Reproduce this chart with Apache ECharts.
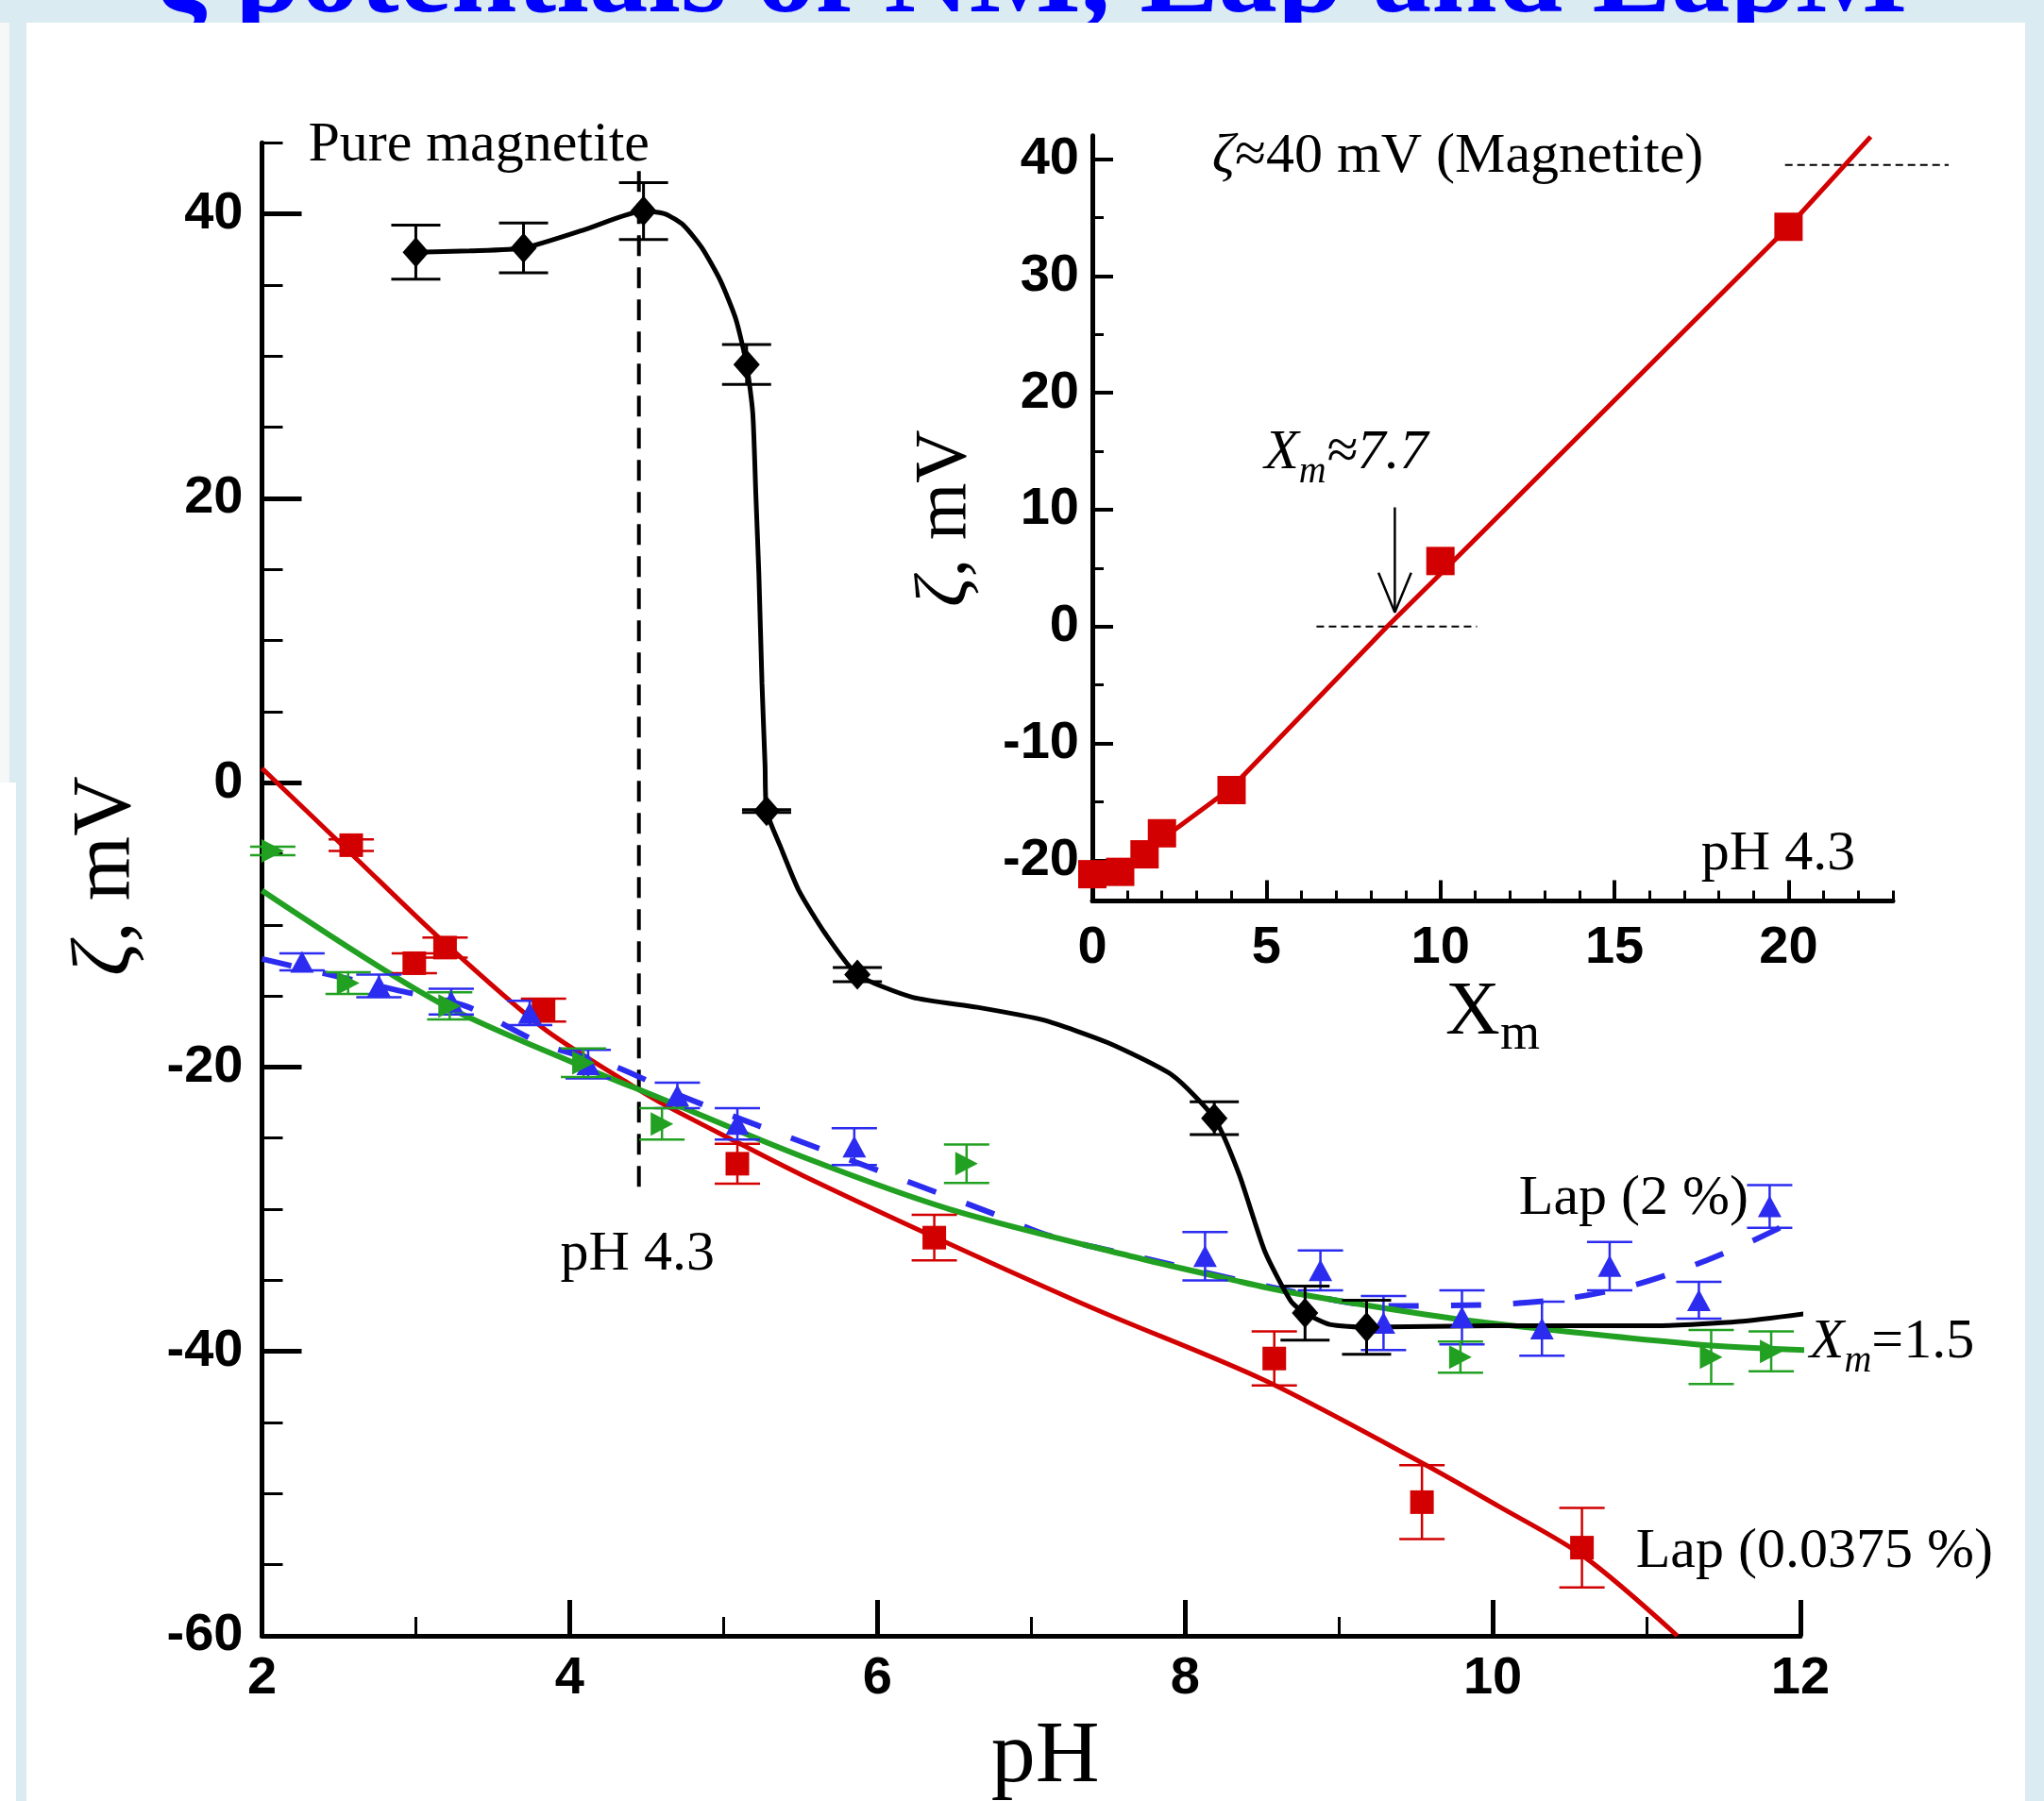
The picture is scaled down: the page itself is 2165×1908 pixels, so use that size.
<!DOCTYPE html>
<html><head><meta charset="utf-8">
<script src="https://cdn.jsdelivr.net/npm/echarts@6/dist/echarts.min.js"></script>
<style>
html,body{margin:0;padding:0;background:#daebf2;}
#wrap{position:relative;width:2165px;height:1908px;overflow:hidden;background:#daebf2;}
.pn{position:absolute;background:#fff;}
#chart{position:absolute;left:0;top:0;width:2165px;height:1908px;}
</style></head><body>
<div id="wrap">
<div class="pn" style="left:28px;top:24px;width:2117px;height:1884px"></div>
<div class="pn" style="left:0;top:24px;width:10px;height:805px;background:#f6f7f7"></div>
<div class="pn" style="left:0;top:829px;width:17px;height:1079px"></div>
<div id="chart"></div>
</div>
<script>
// ---------- DATA ----------
const titleText = 'ζ potentials of NM, Lap and LapM';

// Main chart axes
const phTicksMajor = [2, 4, 6, 8, 10, 12];
const zetaTicksMajor = [-60, -40, -20, 0, 20, 40];
const zetaTicksMinor = [-55, -50, -45, -35, -30, -25, -15, -10, -5, 5, 10, 15, 25, 30, 35, 45];

// Pure magnetite (black diamonds)
const magX   = [3.0, 3.7, 4.48, 5.15, 5.28, 5.87, 8.19, 8.78, 9.18];
const magY   = [37.3, 37.6, 40.2, 29.4, -2.0, -13.5, -23.6, -37.3, -38.3];
const magErr = [1.9, 1.75, 2.0, 1.4, 0.1, 0.5, 1.15, 1.9, 1.9];
const magFitX = [3.0, 3.35, 3.7, 4.1, 4.48, 4.62, 4.74, 4.86, 4.98, 5.08, 5.15, 5.19, 5.21, 5.23, 5.25, 5.27, 5.28, 5.37, 5.49, 5.66, 5.87, 6.23, 6.65, 7.08, 7.5, 7.92, 8.19, 8.35, 8.52, 8.69, 8.78, 8.94, 9.18, 10.0, 11.08, 11.6, 12.06];
const magFitY = [37.3, 37.4, 37.6, 38.9, 40.2, 40.0, 39.2, 37.6, 35.3, 32.6, 29.4, 26.0, 20.3, 14.6, 7.0, 1.2, -2.0, -4.5, -7.6, -10.6, -13.5, -15.1, -15.8, -16.7, -18.3, -20.6, -23.6, -27.5, -33.0, -36.5, -37.3, -38.1, -38.3, -38.2, -38.2, -37.9, -37.3];

// Lap (0.0375 %) (red squares)
const lapLowX   = [2.58, 2.99, 3.19, 3.83, 5.09, 6.37, 8.58, 9.54, 10.58];
const lapLowY   = [-4.4, -12.7, -11.6, -16.0, -26.8, -32.0, -40.5, -50.6, -53.8];
const lapLowErr = [0.4, 0.7, 0.7, 0.8, 1.4, 1.6, 1.9, 2.6, 2.8];
const lapLowFitX = [2.0, 2.58, 3.14, 3.82, 4.36, 4.59, 5.09, 5.51, 6.38, 7.41, 8.51, 9.55, 10.04, 10.59, 11.2];
const lapLowFitY = [1.0, -5.0, -10.8, -17.2, -21.0, -22.5, -25.3, -27.6, -32.0, -37.0, -42.0, -47.9, -50.9, -54.4, -60.0];

// Xm = 1.5 (green right triangles)
const xm15X   = [2.07, 2.56, 3.22, 4.09, 4.6, 6.58, 9.79, 11.42, 11.81];
const xm15Y   = [-4.8, -14.1, -15.7, -19.7, -24.0, -26.8, -40.4, -40.4, -40.0];
const xm15Err = [0.3, 0.76, 0.95, 1.0, 1.1, 1.35, 1.1, 1.9, 1.4];
const xm15FitX = [2.0, 3.14, 4.09, 4.59, 5.51, 6.47, 7.72, 8.28, 8.66, 9.5, 9.97, 11.32, 12.03];
const xm15FitY = [-7.6, -15.4, -20.0, -22.2, -26.3, -30.0, -33.5, -34.9, -35.8, -37.3, -38.0, -39.5, -39.9];

// Lap (2 %) (blue up triangles)
const lapHighX   = [2.26, 2.76, 3.23, 3.74, 4.12, 4.7, 5.09, 5.85, 8.13, 8.88, 9.29, 9.8, 10.32, 10.76, 11.34, 11.8];
const lapHighY   = [-12.6, -14.3, -15.4, -16.2, -19.8, -22.0, -24.0, -25.6, -33.3, -34.3, -38.0, -37.6, -38.4, -34.0, -36.4, -29.8];
const lapHighErr = [0.6, 0.8, 0.9, 0.85, 1.0, 0.9, 1.1, 1.3, 1.7, 1.4, 1.9, 1.9, 1.9, 1.7, 1.3, 1.5];
const lapHighFitX = [2.0, 2.88, 3.32, 3.83, 4.28, 4.74, 5.22, 6.06, 6.75, 7.13, 7.72, 8.66, 9.3, 10.0, 10.47, 10.93, 11.39, 11.83, 12.05];
const lapHighFitY = [-12.4, -14.6, -15.7, -18.4, -19.9, -22.1, -24.1, -27.5, -30.3, -31.9, -33.4, -35.7, -36.8, -36.7, -36.3, -35.3, -33.6, -31.5, -30.1];

// pH 4.3 guide line
const guideX = [4.45, 4.45];
const guideY = [43.0, -28.5];

// Inset: zeta vs Xm at pH 4.3
const xmTicksMajor = [0, 5, 10, 15, 20];
const xmTicksMinor = [1, 2, 3, 4, 6, 7, 8, 9, 11, 12, 13, 14, 16, 17, 18, 19, 21, 22, 23];
const insetTicksMajor = [-20, -10, 0, 10, 20, 30, 40];
const insetTicksMinor = [-15, -5, 5, 15, 25, 35];
const insetX = [0, 0.8, 1.5, 2.0, 4.0, 10.0, 20.0];
const insetY = [-21.2, -21.0, -19.5, -17.7, -14.0, 5.6, 34.2];
const insetFitX = [0, 0.8, 1.5, 2.0, 4.0, 8.47, 10.0, 20.0, 22.36];
const insetFitY = [-22.0, -21.2, -19.8, -18.2, -13.8, 0.0, 4.5, 34.2, 41.9];
const zeroLineX = [6.44, 11.05], zeroLineY = [0, 0];
const magLineX = [19.9, 24.6], magLineY = [39.5, 39.5];
const arrowX = [8.69, 8.69], arrowY = [10.2, 1.2];
const arrowHeadX = [8.22, 8.69, 9.16], arrowHeadY = [4.6, 1.2, 4.6];

// Text annotations [x, y, text]
const mainNotes = [
  [2.30, 44.8, 'Pure magnetite'],
  [3.94, -33.2, 'pH 4.3'],
  [10.17, -29.3, 'Lap (2 %)'],
  [10.93, -54.1, 'Lap (0.0375 %)'],
  [12.06, -39.4, '{i|X}{s|m}{n|=1.5}']
];
const insetNotes = [
  [3.44, 40.2, '{i|ζ}{n|≈40 mV (Magnetite)}'],
  [4.94, 14.8, '{i|X}{s|m}{i|≈7.7}'],
  [17.49, -19.5, 'pH 4.3']
];

// ---------- HELPERS ----------
function zip(xs, ys, es) { return xs.map((x, i) => es ? [x, ys[i], es[i]] : [x, ys[i]]); }
function errBars(color, lw, capHalf) {
  return function (params, api) {
    const x = api.value(0), y = api.value(1), e = api.value(2);
    const t = api.coord([x, y + e]), b = api.coord([x, y - e]);
    const st = { stroke: color, lineWidth: lw };
    return { type: 'group', children: [
      { type: 'line', shape: { x1: t[0], y1: t[1], x2: b[0], y2: b[1] }, style: st },
      { type: 'line', shape: { x1: t[0] - capHalf, y1: t[1], x2: t[0] + capHalf, y2: t[1] }, style: st },
      { type: 'line', shape: { x1: b[0] - capHalf, y1: b[1], x2: b[0] + capHalf, y2: b[1] }, style: st }
    ]};
  };
}
const SERIF = '"Liberation Serif", "Times New Roman", serif';
const SANS = '"Liberation Sans", Arial, sans-serif';
const tickFont = { fontFamily: SANS, fontWeight: 'bold', fontSize: 56, color: '#000' };
const RED = '#d20000', GREEN = '#22a022', BLUE = '#2c2cf0', BLACK = '#000';

const richNotes = {
  i: { fontFamily: SERIF, fontStyle: 'italic', fontSize: 60, color: '#000', lineHeight: 80 },
  n: { fontFamily: SERIF, fontSize: 60, color: '#000', lineHeight: 80 },
  s: { fontFamily: SERIF, fontStyle: 'italic', fontSize: 40, color: '#000', lineHeight: 40, verticalAlign: 'bottom' }
};
function noteSeries(notes, xi, yi) {
  return {
    type: 'scatter', xAxisIndex: xi, yAxisIndex: yi, symbolSize: 0, clip: false, silent: true, z: 10,
    itemStyle: { opacity: 1 },
    data: notes.map(n => ({ value: [n[0], n[1]], name: n[2] })),
    label: { show: true, position: 'right', distance: 0, formatter: '{b}',
      fontFamily: SERIF, fontSize: 60, color: '#000', opacity: 1, textBorderWidth: 0, rich: richNotes }
  };
}
function lineSeries(xs, ys, color, width, xi, yi, extra) {
  return Object.assign({
    type: 'line', xAxisIndex: xi, yAxisIndex: yi, data: zip(xs, ys), showSymbol: false,
    symbol: 'none', silent: true, lineStyle: { color: color, width: width }
  }, extra || {});
}
function markers(xs, ys, xi, yi, symbol, size, color, extra) {
  return Object.assign({
    type: 'scatter', xAxisIndex: xi, yAxisIndex: yi, data: zip(xs, ys), symbol: symbol,
    symbolSize: size, itemStyle: { color: color, opacity: 1 }, z: 7, silent: true
  }, extra || {});
}
const lineOff = (w) => ({ onZero: false, lineStyle: { color: '#000', width: w } });

// ---------- CHART ----------
const chart = echarts.init(document.getElementById('chart'), null, { renderer: 'canvas' });
const option = {
  backgroundColor: 'transparent',
  animation: false,
  graphic: [
    { type: 'text', x: 166, y: 42, z: 1,
      style: { text: titleText, font: 'bold 125px "Liberation Serif", serif', fill: '#0000ff',
        textAlign: 'left', textVerticalAlign: 'bottom', verticalAlign: 'bottom' } },
    { type: 'rect', z: 2, shape: { x: 28, y: 24, width: 2117, height: 60 }, style: { fill: '#fff' } }
  ],
  grid: [
    { left: 277.5, right: 258, top: 151.2, bottom: 175, outerBoundsMode: 'none', containLabel: false },
    { left: 1157, right: 160, top: 143.7, bottom: 953.4, outerBoundsMode: 'none', containLabel: false }
  ],
  xAxis: [
    { gridIndex: 0, type: 'value', min: 2, max: 12, interval: 2, position: 'bottom',
      axisLine: lineOff(5),
      axisTick: { inside: true, length: 38, lineStyle: { color: '#000', width: 5 } },
      minorTick: { show: true, splitNumber: 2, length: 20, lineStyle: { color: '#000', width: 3 } },
      splitLine: { show: false }, minorSplitLine: { show: false },
      axisLabel: Object.assign({ margin: 18 }, tickFont),
      name: 'pH', nameLocation: 'middle', nameGap: 82,
      nameTextStyle: { fontFamily: SERIF, fontSize: 94, color: '#000', padding: [0, 0, 0, 30] } },
    { gridIndex: 1, type: 'value', min: 0, max: 23, position: 'bottom',
      axisLine: lineOff(5),
      axisTick: { inside: true, length: 22, customValues: xmTicksMajor, lineStyle: { color: '#000', width: 4 } },
      axisLabel: Object.assign({ margin: 22, customValues: xmTicksMajor }, tickFont),
      splitLine: { show: false },
      name: '{x|X}{s|m}', nameLocation: 'middle', nameGap: 68,
      nameTextStyle: { fontFamily: SERIF, fontSize: 80, color: '#000',
        rich: { x: { fontFamily: SERIF, fontSize: 80, color: '#000', lineHeight: 100 },
                s: { fontFamily: SERIF, fontSize: 54, color: '#000', lineHeight: 50, verticalAlign: 'bottom' } } } },
    { gridIndex: 1, type: 'value', min: 0, max: 23, position: 'bottom',
      axisLine: { show: false, onZero: false },
      axisTick: { inside: true, length: 11, customValues: xmTicksMinor, lineStyle: { color: '#000', width: 3 } },
      axisLabel: { show: false }, splitLine: { show: false } }
  ],
  yAxis: [
    { gridIndex: 0, type: 'value', min: -60, max: 45, position: 'left',
      axisLine: lineOff(5),
      axisTick: { inside: true, length: 42, customValues: zetaTicksMajor, lineStyle: { color: '#000', width: 5 } },
      axisLabel: Object.assign({ margin: 20, customValues: zetaTicksMajor }, tickFont),
      splitLine: { show: false },
      name: '{z|ζ}{t|, mV}', nameLocation: 'middle', nameRotate: 90, nameGap: 120,
      nameTextStyle: { fontFamily: SERIF, fontSize: 88, color: '#000', padding: [0, 0, 0, 28],
        rich: { z: { fontFamily: SERIF, fontStyle: 'italic', fontSize: 88, color: '#000' },
                t: { fontFamily: SERIF, fontSize: 88, color: '#000' } } } },
    { gridIndex: 0, type: 'value', min: -60, max: 45, position: 'left',
      axisLine: { show: false, onZero: false },
      axisTick: { inside: true, length: 22, customValues: zetaTicksMinor, lineStyle: { color: '#000', width: 3 } },
      axisLabel: { show: false }, splitLine: { show: false } },
    { gridIndex: 1, type: 'value', min: -23.5, max: 42, position: 'left',
      axisLine: lineOff(5),
      axisTick: { inside: true, length: 22, customValues: insetTicksMajor, lineStyle: { color: '#000', width: 4 } },
      axisLabel: Object.assign({ margin: 14, customValues: insetTicksMajor }, tickFont),
      splitLine: { show: false },
      name: '{z|ζ}{t|, mV}', nameLocation: 'middle', nameRotate: 90, nameGap: 116,
      nameTextStyle: { fontFamily: SERIF, fontSize: 78, color: '#000',
        rich: { z: { fontFamily: SERIF, fontStyle: 'italic', fontSize: 78, color: '#000' },
                t: { fontFamily: SERIF, fontSize: 78, color: '#000' } } } },
    { gridIndex: 1, type: 'value', min: -23.5, max: 42, position: 'left',
      axisLine: { show: false, onZero: false },
      axisTick: { inside: true, length: 12, customValues: insetTicksMinor, lineStyle: { color: '#000', width: 3 } },
      axisLabel: { show: false }, splitLine: { show: false } }
  ],
  series: [
    lineSeries(guideX, guideY, BLACK, 4, 0, 0, { lineStyle: { color: BLACK, width: 4, type: [22, 12] }, z: 1 }),
    lineSeries(lapLowFitX, lapLowFitY, RED, 5, 0, 0, { smooth: 0.3, z: 3 }),
    lineSeries(lapHighFitX, lapHighFitY, BLUE, 6, 0, 0, { smooth: 0.3, z: 3, lineStyle: { color: BLUE, width: 6, type: [32, 34] } }),
    lineSeries(xm15FitX, xm15FitY, GREEN, 6, 0, 0, { smooth: 0.3, z: 4 }),
    lineSeries(magFitX, magFitY, BLACK, 5, 0, 0, { smooth: 0.2, z: 5 }),
    { type: 'custom', xAxisIndex: 0, yAxisIndex: 0, renderItem: errBars(RED, 2.5, 24), data: zip(lapLowX, lapLowY, lapLowErr), encode: { x: 0, y: 1 }, z: 6, silent: true },
    { type: 'custom', xAxisIndex: 0, yAxisIndex: 0, renderItem: errBars(BLUE, 2.5, 24), data: zip(lapHighX, lapHighY, lapHighErr), encode: { x: 0, y: 1 }, z: 6, silent: true },
    { type: 'custom', xAxisIndex: 0, yAxisIndex: 0, renderItem: errBars(GREEN, 2.5, 24), data: zip(xm15X, xm15Y, xm15Err), encode: { x: 0, y: 1 }, z: 6, silent: true },
    { type: 'custom', xAxisIndex: 0, yAxisIndex: 0, renderItem: errBars(BLACK, 3, 26), data: zip(magX, magY, magErr), encode: { x: 0, y: 1 }, z: 6, silent: true },
    markers(lapLowX, lapLowY, 0, 0, 'rect', 25, RED),
    markers(lapHighX, lapHighY, 0, 0, 'triangle', [25, 23], BLUE),
    markers(xm15X, xm15Y, 0, 0, 'triangle', [25, 24], GREEN, { symbolRotate: -90 }),
    markers(magX, magY, 0, 0, 'diamond', [28, 32], BLACK, { z: 8 }),
    lineSeries(zeroLineX, zeroLineY, BLACK, 2, 1, 2, { lineStyle: { color: BLACK, width: 2, type: [8, 5] }, clip: false }),
    lineSeries(insetFitX, insetFitY, RED, 5, 1, 2, { clip: false, z: 3 }),
    lineSeries(arrowX, arrowY, BLACK, 2.5, 1, 2, { z: 4 }),
    lineSeries(arrowHeadX, arrowHeadY, BLACK, 2.5, 1, 2, { z: 4 }),
    markers(insetX, insetY, 1, 2, 'rect', 30, RED, { z: 6, clip: false }),
    noteSeries(mainNotes, 0, 0),
    noteSeries(insetNotes, 1, 2)
  ]
};
chart.setOption(option);

// Dashed "magnetite" reference line extends past the inset axis end: place it through the inset scales.
const p1 = chart.convertToPixel({ xAxisIndex: 1, yAxisIndex: 2 }, [magLineX[0], magLineY[0]]);
const p2 = chart.convertToPixel({ xAxisIndex: 1, yAxisIndex: 2 }, [magLineX[1], magLineY[1]]);
chart.setOption({
  graphic: option.graphic.concat([
    { type: 'line', z: 3, shape: { x1: p1[0], y1: p1[1], x2: p2[0], y2: p2[1] },
      style: { stroke: '#000', lineWidth: 2, lineDash: [8, 5] } }
  ])
});
</script>
</body></html>
